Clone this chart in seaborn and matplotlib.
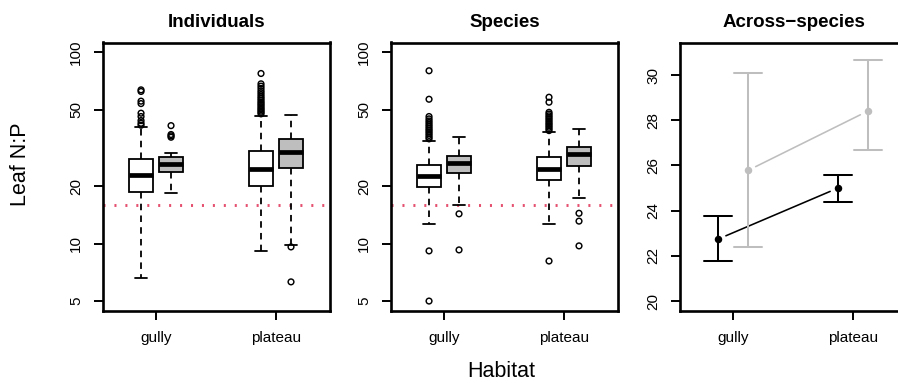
import numpy as np
import pandas as pd
import matplotlib
matplotlib.use("Agg")
import matplotlib.pyplot as plt
from matplotlib.ticker import NullLocator
import seaborn as sns

# ---------------------------------------------------------------- data
habitats = ["gully", "plateau"]
groups = ["A", "B"]

# five-number summaries: lower whisker, lower hinge, median, upper hinge, upper whisker
ind_gully_A = [6.63, 18.7, 22.9, 27.8, 40.9]
ind_gully_B = [18.3, 23.8, 26.1, 28.2, 29.8]
ind_plateau_A = [9.15, 20.1, 24.5, 30.6, 46.3]
ind_plateau_B = [9.8, 24.8, 30.3, 35.1, 47.1]

sp_gully_A = [12.7, 19.8, 22.6, 25.9, 34.4]
sp_gully_B = [16.0, 23.4, 26.5, 28.8, 35.9]
sp_plateau_A = [12.7, 21.5, 24.5, 28.2, 38.2]
sp_plateau_B = [17.4, 25.5, 29.4, 32.0, 39.9]

# points beyond the whiskers
ind_out_gully_A = [41.6, 42.6, 44.0, 46.2, 48.1, 54.0, 55.6, 62.5, 63.7]
ind_out_gully_B = [36.0, 36.6, 37.2, 41.4]
ind_out_plateau_A = [47.7, 48.5, 49.3, 50.2, 51.0, 52.0, 53.0, 54.0, 55.0, 56.2,
                     57.4, 58.6, 60.0, 61.5, 63.0, 64.8, 66.6, 68.5, 77.6]
ind_out_plateau_B = [6.3, 9.6]

sp_out_gully_A = [5.0, 9.15, 35.3, 36.0, 36.8, 37.6, 38.4, 39.2, 40.0, 40.9,
                  41.8, 42.8, 43.8, 44.9, 46.2, 56.9, 80.2]
sp_out_gully_B = [9.26, 14.3]
sp_out_plateau_A = [8.1, 39.0, 39.8, 40.6, 41.4, 42.2, 43.0, 43.9, 44.8, 45.7,
                    46.6, 47.6, 48.6, 54.9, 58.3]
sp_out_plateau_B = [9.72, 13.1, 14.4]

# across-species means with lower / upper interval limits (gully, plateau)
across_mean_A = [22.74, 25.00]
across_lo_A = [21.79, 24.40]
across_hi_A = [23.78, 25.59]
across_mean_B = [25.78, 28.41]
across_lo_B = [22.39, 26.67]
across_hi_B = [30.09, 30.65]

np_threshold = 16
log_ticks = [5, 10, 20, 50, 100]
lin_ticks = [20, 22, 24, 26, 28, 30]

# ---------------------------------------------------------------- style
sns.set_theme(style="ticks", rc={
    "axes.edgecolor": "black",
    "axes.linewidth": 1.9,
    "xtick.color": "black",
    "ytick.color": "black",
    "xtick.major.size": 6.7,
    "ytick.major.size": 6.7,
    "xtick.major.width": 1.4,
    "ytick.major.width": 1.4,
    "xtick.major.pad": 8.0,
    "ytick.major.pad": 7.5,
    "xtick.labelsize": 11,
    "ytick.labelsize": 11,
    "text.color": "black",
    "axes.labelcolor": "black",
})
plt.rcParams["font.family"] = ["Liberation Sans", "DejaVu Sans"]

W, H = 898, 383
fig = plt.figure(figsize=(W / 100, H / 100), dpi=100)

box_fill = ["white", "#bebebe"]
point_cols = ["black", "#bebebe"]
dodge_shift = {"A": -0.125, "B": 0.125}
xlims = (-0.442, 1.45)


def panel(left_px):
    return fig.add_axes([left_px / W, (H - 311) / H, 227 / W, (311 - 42.5) / H])


def long_frame(table):
    rows = []
    for (hab, grp), vals in table.items():
        for v in vals:
            rows.append({"pos": habitats.index(hab), "group": grp, "np": v})
    return pd.DataFrame(rows)


def finish_x(ax):
    ax.set_xlim(*xlims)
    ax.set_xticks([0, 1])
    ax.set_xticklabels(habitats)
    ax.set_xlabel("")
    ax.set_ylabel("")
    for s in ax.spines.values():
        s.set_visible(True)


def draw_boxes(ax, summaries, outliers, title):
    ax.set_yscale("log")
    lo, hi = np.log10(log_ticks[0]), np.log10(log_ticks[-1])
    pad = 0.04 * (hi - lo)
    ax.set_ylim(10 ** (lo - pad), 10 ** (hi + pad))

    ax.axhline(np_threshold, color="#e5506f", linewidth=2.1,
               linestyle=(0, (0.7, 3.05)), zorder=1)

    sns.boxplot(data=long_frame(summaries), x="pos", y="np", hue="group",
                hue_order=groups, native_scale=True, width=0.5, gap=0.2,
                whis=(0, 100), showfliers=False, palette=box_fill,
                saturation=1, linecolor="black", linewidth=1.3,
                medianprops={"linewidth": 3.4, "solid_capstyle": "butt"},
                whiskerprops={"linestyle": (0, (3.6, 2.9))},
                legend=False, ax=ax)

    out = long_frame(outliers)
    out["x"] = out["pos"] + out["group"].map(dodge_shift)
    sns.scatterplot(data=out, x="x", y="np", marker="o", s=17,
                    facecolor="none", edgecolor="black", linewidth=1.05,
                    legend=False, ax=ax, zorder=4)

    ax.set_ylim(10 ** (lo - pad), 10 ** (hi + pad))
    ax.set_yticks(log_ticks)
    ax.set_yticklabels([str(t) for t in log_ticks], rotation=90, va="center")
    ax.yaxis.set_minor_locator(NullLocator())
    finish_x(ax)
    ax.set_title(title, fontsize=13.5, fontweight="bold", pad=11)


# ---------------------------------------------------------------- panels
ax1 = panel(103)
draw_boxes(
    ax1,
    {("gully", "A"): ind_gully_A, ("gully", "B"): ind_gully_B,
     ("plateau", "A"): ind_plateau_A, ("plateau", "B"): ind_plateau_B},
    {("gully", "A"): ind_out_gully_A, ("gully", "B"): ind_out_gully_B,
     ("plateau", "A"): ind_out_plateau_A, ("plateau", "B"): ind_out_plateau_B},
    "Individuals",
)

ax2 = panel(391)
draw_boxes(
    ax2,
    {("gully", "A"): sp_gully_A, ("gully", "B"): sp_gully_B,
     ("plateau", "A"): sp_plateau_A, ("plateau", "B"): sp_plateau_B},
    {("gully", "A"): sp_out_gully_A, ("gully", "B"): sp_out_gully_B,
     ("plateau", "A"): sp_out_plateau_A, ("plateau", "B"): sp_out_plateau_B},
    "Species",
)

ax3 = panel(680)
across = {"A": (across_lo_A, across_mean_A, across_hi_A),
          "B": (across_lo_B, across_mean_B, across_hi_B)}
rows = []
for grp, (lo_v, mid_v, hi_v) in across.items():
    for i in range(len(habitats)):
        for v in (lo_v[i], mid_v[i], hi_v[i]):
            rows.append({"pos": i, "group": grp, "np": v})
pts = pd.DataFrame(rows)

sns.pointplot(data=pts, x="pos", y="np", hue="group", hue_order=groups,
              native_scale=True, estimator="median", errorbar=("pi", 100),
              dodge=0.25, capsize=0.235, palette=point_cols,
              linestyles="none", markers="o", markersize=5.4,
              markeredgewidth=0, linewidth=1.45,
              err_kws={"linewidth": 1.45}, legend=False, ax=ax3)

lo3, hi3 = lin_ticks[0], 31
pad3 = 0.04 * (hi3 - lo3)
ax3.set_ylim(lo3 - pad3, hi3 + pad3)
ax3.set_yticks(lin_ticks)
ax3.set_yticklabels([str(t) for t in lin_ticks], rotation=90, va="center")
finish_x(ax3)
ax3.set_title("Across\u2212species", fontsize=13.5, fontweight="bold", pad=11)

# connecting lines between habitat means, stopping short of each point
gap_px = 8.5
for grp, col in zip(groups, point_cols):
    xs = np.arange(len(habitats)) + dodge_shift[grp]
    ys = np.array(across[grp][1])
    p = ax3.transData.transform(np.column_stack([xs, ys]))
    d = p[1] - p[0]
    u = d / np.hypot(*d)
    seg = ax3.transData.inverted().transform(
        np.array([p[0] + u * gap_px, p[1] - u * gap_px]))
    ax3.plot(seg[:, 0], seg[:, 1], color=col, linewidth=1.15, zorder=1)

# shared axis titles
fig.text(20.5 / W, 1 - 164 / H, "Leaf N:P", rotation=90, ha="center",
         va="center", fontsize=15.5)
fig.text(501.7 / W, 1 - 377 / H, "Habitat", ha="center", va="baseline",
         fontsize=15.5)

fig.savefig("out.png", dpi=100)
